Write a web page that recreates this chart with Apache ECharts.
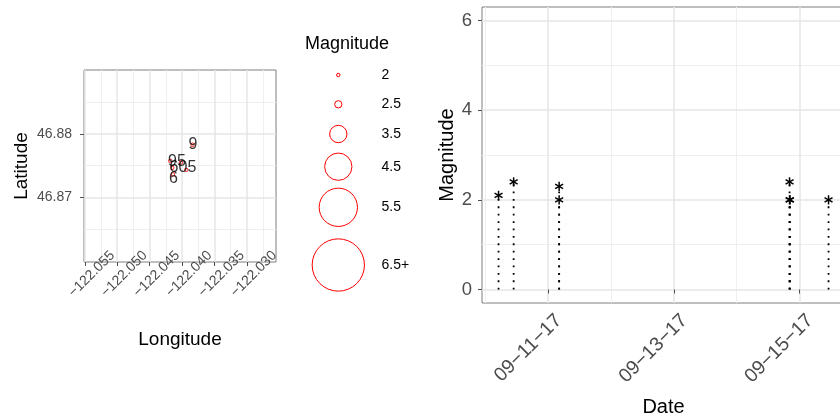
<!DOCTYPE html>
<html><head><meta charset="utf-8">
<script src="https://cdn.jsdelivr.net/npm/echarts@6/dist/echarts.min.js"></script>
<style>html,body{margin:0;padding:0;background:#fff;overflow:hidden}#c{width:840px;height:417px}</style>
</head><body><div id="c"></div><script>
// ---------------- data ----------------
// map panel (epicentres)
const mapLon = [-122.03837, -122.04181, -122.04016, -122.04150, -122.03934, -122.04139];
const mapLat = [46.87827, 46.87576, 46.87549, 46.87466, 46.87435, 46.87361];
const mapMag = [2.0, 2.0, 2.0, 2.0, 2.0, 2.0];
const mapLabelText = ['9', '95', '605', '6'];
const mapLabelLon = [-122.03831, -122.04078, -122.03985, -122.04130];
const mapLabelLat = [46.87823, 46.87560, 46.87474, 46.87301];
const lonTicks = [-122.055, -122.050, -122.045, -122.040, -122.035, -122.030];
const lonMinor = [-122.0525, -122.0475, -122.0425, -122.0375, -122.0325, -122.0275];
const latTicks = [46.87, 46.88];
const latMinor = [46.865, 46.875, 46.885];
// size legend
const legendLabels = ['2', '2.5', '3.5', '4.5', '5.5', '6.5+'];
const legendMags = [2, 2.5, 3.5, 4.5, 5.5, 6.5];
// time panel
const eventTime = ['2017-09-10T05:04', '2017-09-10T10:50', '2017-09-11T04:12', '2017-09-11T04:12',
                   '2017-09-14T20:10', '2017-09-14T20:10', '2017-09-14T20:20', '2017-09-15T11:03'];
const eventMag = [2.1, 2.4, 2.3, 2.0, 2.4, 2.0, 2.0, 2.0];
const dateTicks = ['2017-09-11', '2017-09-13', '2017-09-15', '2017-09-17'];
const dateMinor = ['2017-09-10', '2017-09-12', '2017-09-14', '2017-09-16'];
const magTicks = [0, 2, 4, 6];
const magMinor = [1, 3, 5];

// ---------------- helpers ----------------
const FONT = "'Liberation Sans', Arial, Helvetica, sans-serif";
const ts = s => Date.parse(s.length <= 10 ? s + 'T00:00:00Z' : s + ':00Z');
const pad = n => (n < 10 ? '0' : '') + n;
const fmtDate = v => { const d = new Date(v); return pad(d.getUTCMonth() + 1) + '\u2212' + pad(d.getUTCDate()) + '\u2212' + pad(d.getUTCFullYear() % 100); };
const fmtNum = (v, dec) => (v < 0 ? '\u2212' : '') + Math.abs(v).toFixed(dec);
// size scale (magnitude -> symbol diameter, px)
const sizeKnots = [2, 2.5, 3.5, 4.5, 5.5, 6.5];
const sizeDiam = [3.4, 7.3, 17.3, 27.3, 38.3, 52.3];
function magSize(m) {
  if (m <= sizeKnots[0]) return sizeDiam[0];
  for (let i = 1; i < sizeKnots.length; i++) {
    if (m <= sizeKnots[i]) {
      const t = (m - sizeKnots[i - 1]) / (sizeKnots[i] - sizeKnots[i - 1]);
      return sizeDiam[i - 1] + t * (sizeDiam[i] - sizeDiam[i - 1]);
    }
  }
  return sizeDiam[sizeDiam.length - 1];
}

const GRID_MAJOR = '#e6e6e6', GRID_MINOR = '#efefef', BORDER = '#7f7f7f', TICK = '#4d4d4d', TXT = '#4d4d4d';

const mapPoints = mapLon.map((x, i) => [x, mapLat[i], mapMag[i]]);
const mapLabels = mapLabelText.map((t, i) => ({ value: [mapLabelLon[i], mapLabelLat[i]], name: t }));
const events = eventTime.map((t, i) => [ts(t), eventMag[i]]);

const dateMin = ts('2017-09-09T22:45'), dateMax = ts('2017-09-15T17:20');

function minorAxis(base) {
  return Object.assign({
    axisLine: { show: false }, axisLabel: { show: false },
    splitLine: { show: true, lineStyle: { color: GRID_MINOR, width: 1 } }
  }, base);
}

const option = {
  animation: false,
  backgroundColor: '#fff',
  textStyle: { fontFamily: FONT },
  grid: [
    { left: 84, top: 70, width: 192, height: 192, show: true, borderColor: BORDER, borderWidth: 1, backgroundColor: 'transparent',
      containLabel: false, outerBoundsMode: 'none' },
    { left: 482, top: 7, width: 363, height: 296, show: true, borderColor: BORDER, borderWidth: 1, backgroundColor: 'transparent',
      containLabel: false, outerBoundsMode: 'none' }
  ],
  xAxis: [
    { gridIndex: 0, type: 'value', min: -122.05512, max: -122.02549, z: 1,
      name: 'Longitude', nameLocation: 'middle', nameGap: 68,
      nameTextStyle: { fontSize: 19, color: '#000', fontFamily: FONT },
      axisLine: { show: false },
      axisTick: { show: true, length: 4, customValues: lonTicks, lineStyle: { color: TICK } },
      axisLabel: { customValues: lonTicks, rotate: 45, align: 'center', verticalAlign: 'top', lineHeight: 20, margin: 5,
        fontSize: 14, color: TXT, fontFamily: FONT, formatter: v => fmtNum(v, 3) },
      splitLine: { show: true, lineStyle: { color: GRID_MAJOR, width: 1.5 } } },
    minorAxis({ gridIndex: 0, type: 'value', min: -122.05512, max: -122.02549, z: 0,
      axisTick: { show: false, customValues: lonMinor } }),
    { gridIndex: 1, type: 'value', min: dateMin, max: dateMax, z: 1,
      name: 'Date', nameLocation: 'middle', nameGap: 90,
      nameTextStyle: { fontSize: 20, color: '#000', fontFamily: FONT },
      axisLine: { show: false },
      axisTick: { show: true, length: 4, customValues: dateTicks.map(ts), lineStyle: { color: TICK } },
      axisLabel: { customValues: dateTicks.map(ts), rotate: 45, align: 'right', verticalAlign: 'top', lineHeight: 30, margin: 4,
        fontSize: 19.5, color: TXT, fontFamily: FONT, formatter: fmtDate },
      splitLine: { show: true, lineStyle: { color: GRID_MAJOR, width: 1.5 } } },
    minorAxis({ gridIndex: 1, type: 'value', min: dateMin, max: dateMax, z: 0,
      axisTick: { show: false, customValues: dateMinor.map(ts) } })
  ],
  yAxis: [
    { gridIndex: 0, type: 'value', min: 46.8599, max: 46.8900, z: 1,
      name: 'Latitude', nameLocation: 'middle', nameGap: 53,
      nameTextStyle: { fontSize: 19, color: '#000', fontFamily: FONT },
      axisLine: { show: false },
      axisTick: { show: true, length: 4, customValues: latTicks, lineStyle: { color: TICK } },
      axisLabel: { customValues: latTicks, margin: 12, fontSize: 14, color: TXT, fontFamily: FONT, formatter: v => v.toFixed(2) },
      splitLine: { show: true, lineStyle: { color: GRID_MAJOR, width: 1.5 } } },
    minorAxis({ gridIndex: 0, type: 'value', min: 46.8599, max: 46.8900, z: 0,
      axisTick: { show: false, customValues: latMinor } }),
    { gridIndex: 1, type: 'value', min: -0.3, max: 6.3, z: 1,
      name: 'Magnitude', nameLocation: 'middle', nameGap: 24,
      nameTextStyle: { fontSize: 20, color: '#000', fontFamily: FONT },
      axisLine: { show: false },
      axisTick: { show: true, length: 4, customValues: magTicks, lineStyle: { color: TICK } },
      axisLabel: { customValues: magTicks, margin: 10, fontSize: 18.5, color: TXT, fontFamily: FONT, formatter: v => String(v) },
      splitLine: { show: true, lineStyle: { color: GRID_MAJOR, width: 1.5 } } },
    minorAxis({ gridIndex: 1, type: 'value', min: -0.3, max: 6.3, z: 0,
      axisTick: { show: false, customValues: magMinor } })
  ],
  series: [
    { type: 'scatter', xAxisIndex: 0, yAxisIndex: 0, data: mapPoints, z: 3,
      symbol: 'circle', symbolSize: d => magSize(d[2]),
      itemStyle: { color: 'rgba(0,0,0,0)', borderColor: '#ff0000', borderWidth: 1 } },
    { type: 'scatter', xAxisIndex: 0, yAxisIndex: 0, data: mapLabels, z: 4,
      symbol: 'circle', symbolSize: 1, itemStyle: { color: 'rgba(0,0,0,0)' },
      label: { show: true, position: 'inside', formatter: p => p.name, fontSize: 16, color: '#000', fontFamily: FONT } },
    { type: 'custom', xAxisIndex: 2, yAxisIndex: 2, data: events, z: 3,
      renderItem: (params, api) => {
        const x = api.value(0), y = api.value(1);
        const p0 = api.coord([x, 0]), p1 = api.coord([x, y]);
        const kids = [{ type: 'line', shape: { x1: p0[0], y1: p0[1], x2: p1[0], y2: p1[1] },
          style: { stroke: '#000', lineWidth: 1.8, lineDash: [1.8, 5.6], lineCap: 'butt' } }];
        const r = 4.6;
        [90, 30, -30].forEach(a => {
          const dx = r * Math.cos(a * Math.PI / 180), dy = r * Math.sin(a * Math.PI / 180);
          kids.push({ type: 'line', shape: { x1: p1[0] - dx, y1: p1[1] - dy, x2: p1[0] + dx, y2: p1[1] + dy },
            style: { stroke: '#000', lineWidth: 1.5 } });
        });
        return { type: 'group', children: kids };
      } }
  ],
  graphic: []
};

// size legend (drawn with the same size scale as the map points)
const legendY = [75, 104.3, 134, 166.7, 207.3, 265];
option.graphic.push({ type: 'text', left: 305, top: 35, style: { text: 'Magnitude', fontSize: 18, fill: '#000', fontFamily: FONT } });
legendMags.forEach((m, i) => {
  option.graphic.push({ type: 'circle', shape: { cx: 338.3, cy: legendY[i], r: magSize(m) / 2 },
    style: { fill: 'none', stroke: '#ff0000', lineWidth: 1 } });
  option.graphic.push({ type: 'text', x: 381.5, y: legendY[i],
    style: { text: legendLabels[i], fontSize: 14, fill: '#000', fontFamily: FONT, verticalAlign: 'middle', align: 'left' } });
});

const chart = echarts.init(document.getElementById('c'), null, { renderer: 'canvas' });
chart.setOption(option);
</script></body></html>
